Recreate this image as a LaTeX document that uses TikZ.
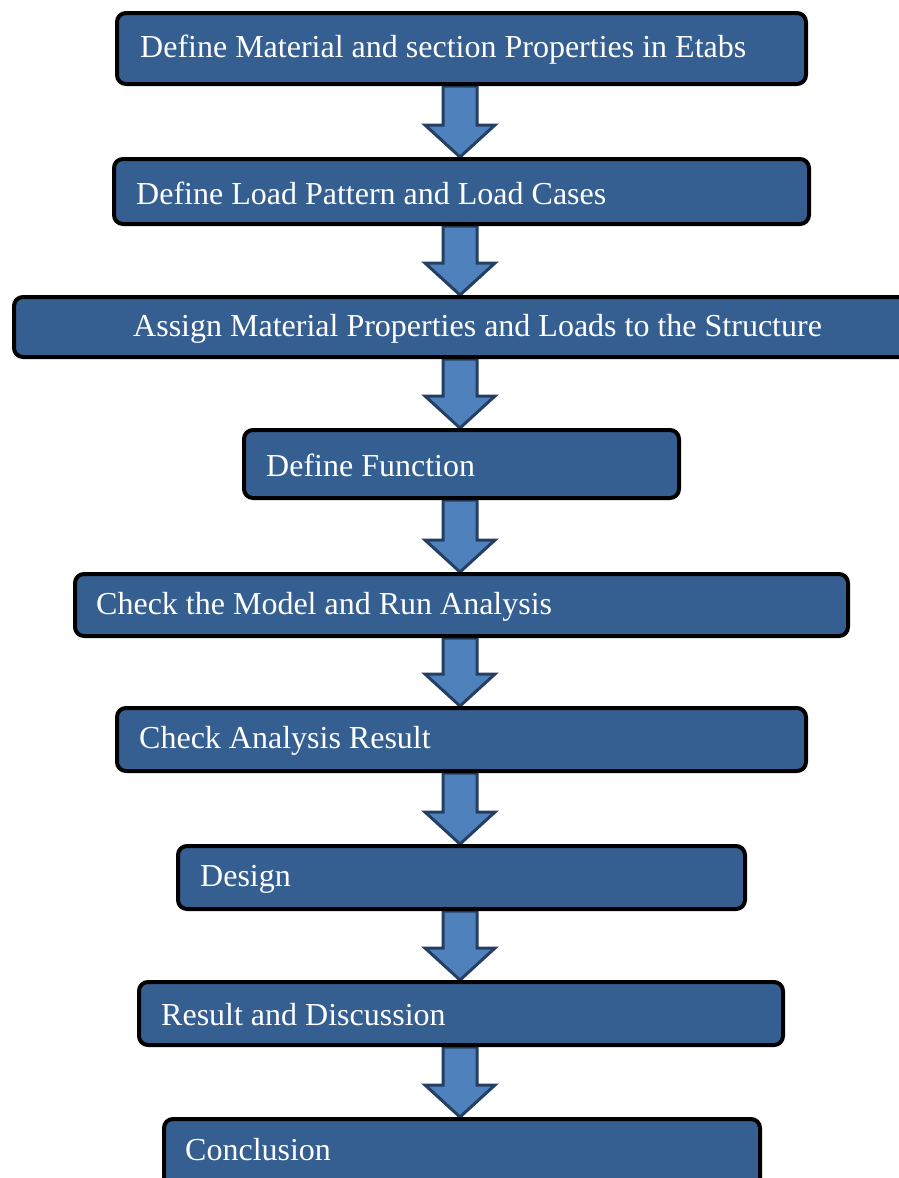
\documentclass[tikz,border=0pt]{standalone}
\usepackage{fontspec}
\setmainfont{Liberation Serif}
\usetikzlibrary{calc}
\pgfdeclarelayer{background}
\pgfsetlayers{background,main}
\definecolor{boxfill}{RGB}{54,95,145}
\definecolor{arrfill}{RGB}{79,129,189}
\definecolor{arrline}{RGB}{36,63,96}
\tikzset{
  flowbox/.style={draw=black, line width=4pt, fill=boxfill, rounded corners=9pt, inner sep=0pt, anchor=north west},
  flowtext/.style={text=white, anchor=west, inner sep=0pt, font=\fontsize{32}{38}\selectfont},
  flowarrow/.style={draw=arrline, line width=3pt, fill=arrfill, line join=miter},
}
\newcommand{\mkbox}[8]{% name, x1, y1, x2, y2, textname, offset, text
  \node[flowbox, minimum width={#4pt-#2pt}, minimum height={#5pt-#3pt}] (#1) at (#2pt,-#3pt) {};
  \node[flowtext] (#6) at ([xshift=#7pt,yshift=-1.5pt]#1.west) {#8};
}
\newcommand{\mkarrow}[2]{%
  \begin{pgfonlayer}{background}
  \draw[flowarrow] let \p1=(#1.south), \p2=(#2.north) in
    (443pt,\y1) -- (477pt,\y1) -- (477pt,\y2+32pt) -- (495pt,\y2+32pt) -- (460pt,\y2)
    -- (425pt,\y2+32pt) -- (443pt,\y2+32pt) -- cycle;
  \end{pgfonlayer}
}
\begin{document}
\begin{tikzpicture}[x=1pt,y=1pt]
\useasboundingbox (0,0) rectangle (898,-1178);
\mkbox{b1}{115}{11}{804}{82}{t1}{25}{Define Material and section Properties in Etabs}
\mkbox{b2}{112}{157}{807}{222}{t2}{24}{Define Load Pattern and Load Cases}
\mkbox{b3}{12}{295}{925}{355}{t3}{121}{Assign Material Properties and Loads to the Structure}
\mkbox{b4}{242}{428}{677}{496}{t4}{24}{Define Function}
\mkbox{b5}{73}{572}{846}{634}{t5}{23}{Check the Model and Run Analysis}
\mkbox{b6}{115}{706}{804}{769}{t6}{24}{Check Analysis Result}
\mkbox{b7}{176}{844}{743}{907}{t7}{24}{Design}
\mkbox{b8}{137}{980}{781}{1043}{t8}{24}{Result and Discussion}
\node[flowbox, minimum width=596pt, minimum height=80pt] (b9) at (162pt,-1117pt) {};
\node[flowtext] (t9) at ([xshift=23pt,yshift=-33pt]b9.north west) {Conclusion};
\mkarrow{b1}{b2}
\mkarrow{b2}{b3}
\mkarrow{b3}{b4}
\mkarrow{b4}{b5}
\mkarrow{b5}{b6}
\mkarrow{b6}{b7}
\mkarrow{b7}{b8}
\mkarrow{b8}{b9}
\end{tikzpicture}
\end{document}
